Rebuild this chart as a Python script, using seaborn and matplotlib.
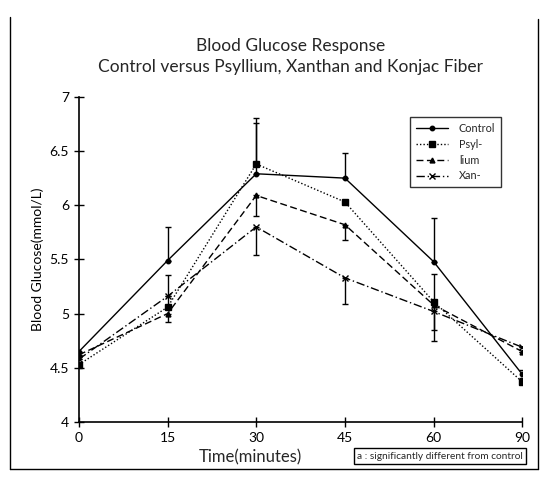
import numpy as np
import pandas as pd
import seaborn as sns
import matplotlib.pyplot as plt
from matplotlib.lines import Line2D

# data
times = ['0', '15', '30', '45', '60', '90']
control = [4.65, 5.49, 6.29, 6.25, 5.48, 4.44]
psyllium = [4.53, 5.06, 6.38, 6.03, 5.11, 4.37]
ilium = [4.62, 5.00, 6.09, 5.82, 5.08, 4.65]
xan = [4.58, 5.16, 5.80, 5.33, 5.02, 4.69]

# one-sided error bars (lower, upper)
control_err_lo = [0, 0, 0, 0, 0, 0.03]
control_err_hi = [0, 0.31, 0.51, 0.23, 0.40, 0.04]
psyllium_err_lo = [0, 0, 0, 0, 0, 0]
psyllium_err_hi = [0, 0.30, 0.38, 0, 0.26, 0]
ilium_err_lo = [0, 0.08, 0.19, 0.14, 0.23, 0]
ilium_err_hi = [0, 0, 0, 0, 0, 0]
xan_err_lo = [0, 0, 0.26, 0.24, 0.27, 0]
xan_err_hi = [0, 0, 0, 0, 0, 0]

labels = ['Control', 'Psyl-', 'lium', 'Xan-']

sns.set_theme(style='white')
plt.rcParams['font.family'] = ['Lato', 'DejaVu Sans']

df = pd.DataFrame({
    'pos': list(range(len(times))) * 4,
    'value': control + psyllium + ilium + xan,
    'group': np.repeat(labels, len(times)),
})

fig = plt.figure(figsize=(5.48, 4.84), dpi=100)
ax = fig.add_axes([0.144, 0.128, 0.809, 0.672])

styles = {
    'Control': dict(ls='-', marker='o', ms=3.2),
    'Psyl-': dict(ls=(0, (1, 1.5)), marker='s', ms=4),
    'lium': dict(ls=(0, (5, 2.5)), marker='^', ms=3.5),
    'Xan-': dict(ls=(0, (6, 2, 1, 2)), marker='x', ms=4),
}
errs = {
    'Control': (control, control_err_lo, control_err_hi),
    'Psyl-': (psyllium, psyllium_err_lo, psyllium_err_hi),
    'lium': (ilium, ilium_err_lo, ilium_err_hi),
    'Xan-': (xan, xan_err_lo, xan_err_hi),
}

handles = []
for name in labels:
    st = styles[name]
    sub = df[df['group'] == name]
    sns.lineplot(data=sub, x='pos', y='value', ax=ax, color='black', lw=1.0,
                 linestyle=st['ls'], marker=st['marker'], markersize=st['ms'],
                 markeredgecolor='black', markeredgewidth=1.0, legend=False)
    vals, lo, hi = errs[name]
    ax.errorbar(range(len(times)), vals, yerr=[lo, hi], fmt='none',
                ecolor='black', elinewidth=1.0, capsize=2.5, capthick=1.0)
    handles.append(Line2D([], [], color='black', lw=1.0, linestyle=st['ls'],
                          marker=st['marker'], markersize=st['ms']))

ax.set_xlim(0, 5)
ax.set_ylim(4, 7)
ax.set_xticks(range(len(times)))
ax.set_xticklabels(times)
ax.set_yticks([4, 4.5, 5, 5.5, 6, 6.5, 7])
ax.set_yticklabels(['4', '4.5', '5', '5.5', '6', '6.5', '7'])
for s in ['top', 'right']:
    ax.spines[s].set_visible(False)
for s in ['left', 'bottom']:
    ax.spines[s].set_color('black')
    ax.spines[s].set_linewidth(1.2)
ax.tick_params(axis='both', direction='inout', length=7, width=1.0,
               colors='black', labelsize=10, left=True, bottom=True)
ax.set_xlabel('')
ax.set_ylabel('Blood Glucose(mmol/L)', fontsize=10, color='black')

leg = ax.legend(handles, labels, loc='upper right', bbox_to_anchor=(0.965, 0.955),
                fontsize=7.8, frameon=True, fancybox=False, handlelength=3.0,
                borderpad=0.55, labelspacing=0.45, handletextpad=1.0)
leg.get_frame().set_edgecolor('black')
leg.get_frame().set_linewidth(1.0)

fig.text(0.53, 0.905, 'Blood Glucose Response', ha='center', va='center', fontsize=12.5)
fig.text(0.53, 0.862, 'Control versus Psyllium, Xanthan and Konjac Fiber',
         ha='center', va='center', fontsize=12.5)
fig.text(0.456, 0.055, 'Time(minutes)', ha='center', va='center', fontsize=12)
fig.text(0.803, 0.057, 'a : significantly different from control', ha='center',
         va='center', fontsize=7.3,
         bbox=dict(boxstyle='square,pad=0.35', fc='white', ec='black', lw=1.0))

# outer frame (left, right, bottom)
fig.add_artist(Line2D([0.018, 0.018], [0.03, 0.965], color='black', lw=1.0))
fig.add_artist(Line2D([0.982, 0.982], [0.03, 0.96], color='black', lw=1.0))
fig.add_artist(Line2D([0.018, 0.982], [0.03, 0.03], color='black', lw=1.0))

fig.savefig('out.png', dpi=100)
